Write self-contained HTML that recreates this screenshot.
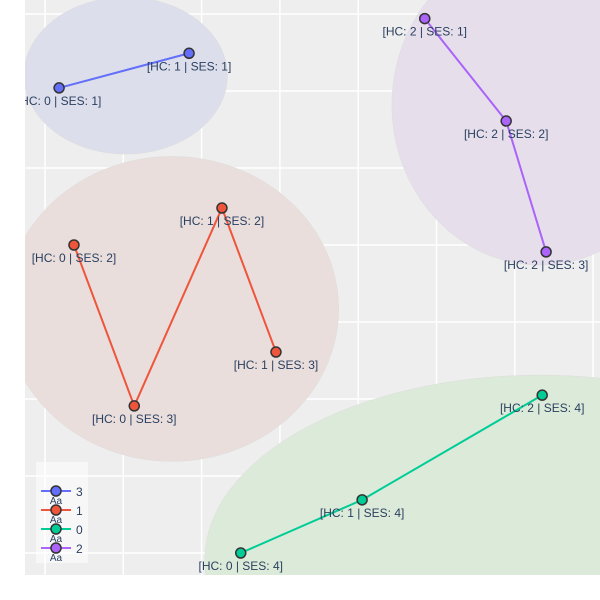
<!DOCTYPE html>
<html><head><meta charset="utf-8"><style>
html,body{margin:0;padding:0;background:#fff;overflow:hidden;width:600px;height:600px;}
svg{display:block;font-family:"Liberation Sans",sans-serif;}
</style></head><body>
<svg id="chart" width="600" height="600"></svg>
<script>
const seriesNames = ["3","1","0","2"];
const seriesColors = ["#636efa","#EF553B","#00cc96","#ab63fa"];
const ellipseFills = ["#dcdfeb","#e9dedc","#dcebd9","#e6deeb"];
const xVals3 = [0.18,1.84];
const yVals3 = [6.04,6.49];
const labels3 = ["[HC: 0 | SES: 1]","[HC: 1 | SES: 1]"];
const xVals1 = [0.37,1.14,2.26,2.95];
const yVals1 = [4.00,1.91,4.48,2.61];
const labels1 = ["[HC: 0 | SES: 2]","[HC: 0 | SES: 3]","[HC: 1 | SES: 2]","[HC: 1 | SES: 3]"];
const xVals0 = [2.50,4.05,6.35];
const yVals0 = [0.00,0.69,2.05];
const labels0 = ["[HC: 0 | SES: 4]","[HC: 1 | SES: 4]","[HC: 2 | SES: 4]"];
const xVals2 = [4.85,5.89,6.40];
const yVals2 = [6.94,5.61,3.91];
const labels2 = ["[HC: 2 | SES: 1]","[HC: 2 | SES: 2]","[HC: 2 | SES: 3]"];
const ellipseCx = [1.03,1.62,6.32,6.32];
const ellipseCy = [6.20,3.17,-0.09,5.82];
const ellipseRx = [1.30,2.13,4.28,1.89];
const ellipseRy = [1.02,1.98,2.40,2.08];
const xTicks = [0,1,2,3,4,5,6,7];
const yTicks = [0,1,2,3,4,5,6,7];

const NS="http://www.w3.org/2000/svg";
const svg=document.getElementById('chart');
const X0=25,X1=600,Y0=0,Y1=575;
function xs(v){return 45+v*78.3;}
function ys(v){return 553-v*77;}
function mk(t,a,p){const e=document.createElementNS(NS,t);for(const k in a)e.setAttribute(k,a[k]);(p||svg).appendChild(e);return e;}
const defs=mk('defs',{});
const cp=mk('clipPath',{id:'clip'},defs);
mk('rect',{x:X0,y:Y0,width:X1-X0,height:Y1-Y0},cp);
const bg=mk('rect',{x:X0,y:Y0,width:X1-X0,height:Y1-Y0,fill:'#eeeeee'});


const g=mk('g',{'clip-path':'url(#clip)'});


xTicks.forEach(v=>{const l=mk('line',{x1:xs(v),x2:xs(v),y1:Y0,y2:Y1,stroke:'#fff','stroke-width':1.5},g);

});
yTicks.forEach(v=>{const l=mk('line',{x1:X0,x2:X1,y1:ys(v),y2:ys(v),stroke:'#fff','stroke-width':1.5},g);

});
for(let i=0;i<4;i++){
 const e=mk('ellipse',{cx:xs(ellipseCx[i]),cy:ys(ellipseCy[i]),rx:ellipseRx[i]*78.3,ry:ellipseRy[i]*77,fill:ellipseFills[i],stroke:'#dcdcdc','stroke-width':0.5},g);
 
 
}
const series=[[xVals3,yVals3,labels3],[xVals1,yVals1,labels1],[xVals0,yVals0,labels0],[xVals2,yVals2,labels2]];
series.forEach((s,i)=>{
 const pts=s[0].map((x,j)=>xs(x)+','+ys(s[1][j])).join(' ');
 const pl=mk('polyline',{points:pts,fill:'none',stroke:seriesColors[i],'stroke-width':2},g);
 
 
});
series.forEach((s,i)=>{
 s[0].forEach((x,j)=>{
  const c=mk('circle',{cx:xs(x),cy:ys(s[1][j]),r:5,fill:seriesColors[i],stroke:'#333','stroke-width':1.5},g);
  
  
  const t=mk('text',{x:xs(x),y:ys(s[1][j])+17,'text-anchor':'middle','font-size':12,fill:'#2a3f5f'},g);
  t.textContent=s[2][j];
  
  
 });
});
const lg=mk('g',{});


mk('rect',{x:36,y:462,width:52,height:101,fill:'#fff','fill-opacity':0.5},lg);
seriesNames.forEach((n,i)=>{
 const y=491+i*19;
 const eg=mk('g',{},lg);
 
 
 mk('line',{x1:41,x2:71,y1:y,y2:y,stroke:seriesColors[i],'stroke-width':2},eg);
 mk('circle',{cx:56,cy:y,r:5,fill:seriesColors[i],stroke:'#333','stroke-width':1.5},eg);
 const a=mk('text',{x:56,y:y+13,'text-anchor':'middle','font-size':10,fill:'#2a3f5f'},eg);a.textContent='Aa';
 const t=mk('text',{x:76,y:y+5,'font-size':12,fill:'#2a3f5f'},eg);t.textContent=n;
});
</script>
</body></html>
